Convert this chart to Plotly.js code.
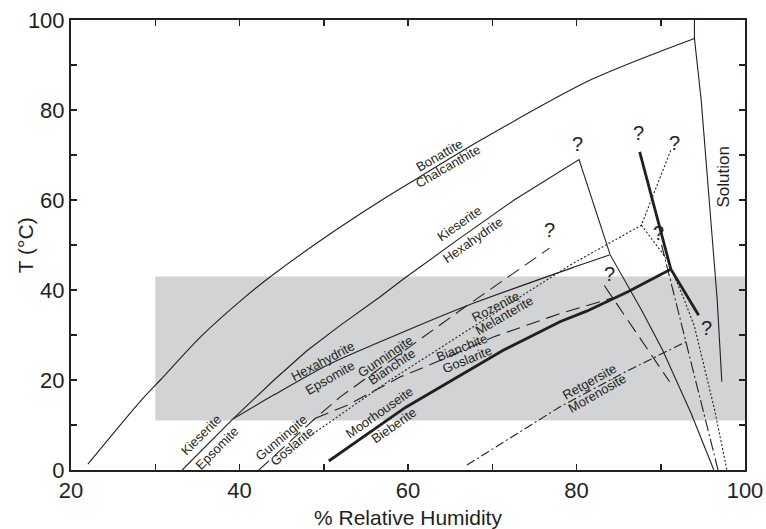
<!DOCTYPE html>
<html>
<head>
<meta charset="utf-8">
<script src="https://cdn.plot.ly/plotly-3.0.1.min.js"></script>
<style>html,body{margin:0;padding:0;background:#fff;}#chart{width:766px;height:529px;}</style>
</head>
<body>
<div id="chart"></div>
<script>
// ---- Data ----
// Grey temperature band
const bandX = [30, 100];
const bandY = [11, 43];

// Bonattite / Chalcanthite boundary
const bonX = [22.0, 28.2, 30.6, 35.5, 40.5, 43.7, 50.0, 56.9, 60.3, 69.0, 81.7, 94.0];
const bonY = [1.3, 15.2, 20.0, 29.8, 38.2, 43.0, 51.5, 60.0, 63.9, 73.7, 86.7, 95.9];
// Solution boundary
const solX = [94.0, 94.0, 94.8, 96.7, 97.25];
const solY = [100, 95.9, 82.2, 37.8, 19.6];
// Kieserite / Epsomite
const kieEpsX = [33.2, 39.2];
const kieEpsY = [0, 11.3];
// Kieserite / Hexahydrite, then descending deliquescence line
const kieHexX = [39.2, 44.1, 48.0, 52.0, 56.7, 59.5, 66.0, 72.6, 80.3, 84.0, 87.7, 90.2, 93.6, 96.3];
const kieHexY = [11.3, 20.0, 26.5, 32.2, 38.5, 42.5, 51.3, 60.0, 69.0, 47.8, 35.6, 26.7, 12.6, 0];
// Hexahydrite / Epsomite and Rozenite / Melanterite (solid)
const hexEpsX = [39.2, 44.1, 50.4, 56.7, 66.7, 80.5, 83.9];
const hexEpsY = [11.3, 16.7, 23.3, 28.5, 36.3, 45.6, 47.8];
// Gunningite / Goslarite -> Gunningite / Bianchite (dashed)
const gunX = [42.3, 49.0, 52.0, 66.3, 76.8];
const gunY = [0, 11.5, 16.3, 35.6, 49.3];
// Bianchite / Goslarite -> Bianchite / Melanterite (dashed)
const bianX = [49.0, 52.8, 59.1, 62.5, 70.2, 78.1, 82.1, 84.4];
const bianY = [11.5, 14.4, 20.7, 23.3, 29.6, 34.8, 37.0, 38.3];
// Steep dashed deliquescence segment
const bianDelX = [83.3, 91.05];
const bianDelY = [41.0, 19.6];
// Rozenite / Melanterite (dotted) with upper branch
const rozX = [48.3, 57.9, 67.8, 79.3, 87.7, 91.2];
const rozY = [7.5, 20.0, 31.9, 45.6, 54.4, 71.1];
// Dotted descending branch
const rozDelX = [87.7, 90.8, 92.8, 94.0, 96.4, 97.85];
const rozDelY = [54.4, 46.7, 37.8, 31.9, 13.3, 0];
// Moorhouseite / Bieberite (thick)
const moorX = [50.6, 59.7, 71.3, 78.1, 81.2, 86.1, 91.2];
const moorY = [2.0, 13.9, 26.6, 33.0, 35.3, 39.6, 44.6];
// Thick branch through the triple point
const moorDelX = [87.5, 91.2, 94.5];
const moorDelY = [70.7, 44.6, 34.4];
// Retgersite / Morenosite (dash-dot)
const retX = [67.0, 78.0, 86.0, 93.0];
const retY = [1.1, 14.0, 22.0, 28.5];
// Dash-dot descending line
const retDelX = [90.1, 93.0, 96.8];
const retDelY = [50.0, 28.5, 0];

// Axis ticks
const xTickVals = [20, 30, 40, 50, 60, 70, 80, 90, 100];
const xTickText = ['20', '', '40', '', '60', '', '80', '', '100'];
const yTickVals = [0, 10, 20, 30, 40, 50, 60, 70, 80, 90, 100];
const yTickText = ['0', '', '20', '', '40', '', '60', '', '80', '', '100'];

// Phase labels
const labelText = ['Bonattite', 'Chalcanthite', 'Kieserite', 'Hexahydrite', 'Hexahydrite', 'Epsomite',
  'Gunningite', 'Bianchite', 'Rozenite', 'Melanterite', 'Bianchite', 'Goslarite', 'Kieserite', 'Epsomite',
  'Gunningite', 'Goslarite', 'Moorhouseite', 'Bieberite', 'Retgersite', 'Morenosite'];
const labelX = [63.7, 64.7, 66.1, 67.6, 49.8, 50.8, 57.3, 58.1, 70.4, 71.4, 66.4, 67.0, 35.5, 37.3, 45.0, 46.2, 56.6, 58.3, 81.6, 82.4];
const labelY = [69.8, 67.4, 54.8, 51.1, 24.2, 20.5, 25.2, 23.0, 36.3, 34.4, 27.3, 24.6, 7.8, 4.8, 7.2, 5.3, 12.8, 10.0, 19.6, 17.0];
const labelAngle = [-30, -30, -35, -35, -28, -30, -34, -34, -27, -30, -22, -22, -45, -45, -40, -40, -35, -35, -29, -30];

// Question marks
const qX = [80.1, 76.8, 87.3, 91.6, 89.7, 83.9, 95.4];
const qY = [72.4, 53.3, 74.8, 72.6, 52.6, 43.6, 31.5];

// ---- Drawing ----
const INK = '#231f20';
const FONT = 'Liberation Sans, Arial, Helvetica, sans-serif';

function ln(x, y, width, dash, shape) {
  return {type: 'scatter', mode: 'lines', x: x, y: y,
    line: {color: INK, width: width, dash: dash || 'solid', shape: shape || 'linear', smoothing: 0.8},
    hoverinfo: 'skip', showlegend: false};
}

const traces = [
  ln(bonX, bonY, 1.1, 'solid', 'spline'),
  ln(solX, solY, 1.1),
  ln(kieEpsX, kieEpsY, 1.1),
  ln(kieHexX, kieHexY, 1.1),
  ln(hexEpsX, hexEpsY, 1.1, 'solid', 'spline'),
  ln(gunX, gunY, 1.1, '14px,7px'),
  ln(bianX, bianY, 1.1, '14px,7px'),
  ln(bianDelX, bianDelY, 1.1, '14px,7px'),
  ln(rozX, rozY, 1.1, '2px,2px'),
  ln(rozDelX, rozDelY, 1.1, '2px,2px'),
  ln(moorX, moorY, 2.8),
  ln(moorDelX, moorDelY, 2.8),
  ln(retX, retY, 1.1, '9px,3px,2px,3px'),
  ln(retDelX, retDelY, 1.1, '12px,3px,2px,3px')
];

const annotations = [];
for (let i = 0; i < labelText.length; i++) {
  annotations.push({x: labelX[i], y: labelY[i], xref: 'x', yref: 'y', text: labelText[i],
    textangle: labelAngle[i], showarrow: false, xanchor: 'center', yanchor: 'middle',
    font: {family: FONT, size: 13, color: INK}});
}
for (let i = 0; i < qX.length; i++) {
  annotations.push({x: qX[i], y: qY[i], xref: 'x', yref: 'y', text: '?', showarrow: false,
    xanchor: 'center', yanchor: 'middle', font: {family: FONT, size: 20, color: INK}});
}
annotations.push({x: 97.5, y: 65.2, xref: 'x', yref: 'y', text: 'Solution', textangle: -90,
  showarrow: false, xanchor: 'center', yanchor: 'middle', font: {family: FONT, size: 17, color: INK}});
// Axis titles placed as annotations for exact placement
annotations.push({x: 0.5, y: -0.105, xref: 'paper', yref: 'paper', text: '% Relative Humidity',
  showarrow: false, xanchor: 'center', yanchor: 'middle', font: {family: FONT, size: 21, color: INK}});
annotations.push({x: -0.068, y: 0.5, xref: 'paper', yref: 'paper', text: 'T (°C)', textangle: -90,
  showarrow: false, xanchor: 'center', yanchor: 'middle', font: {family: FONT, size: 21, color: INK}});

const axisCommon = {
  ticks: 'inside', ticklen: 6, tickwidth: 1.5, tickcolor: INK,
  showline: true, linewidth: 2, linecolor: INK, mirror: 'ticks',
  showgrid: false, zeroline: false,
  tickfont: {family: FONT, size: 22, color: INK}
};

const layout = {
  width: 766, height: 529,
  margin: {l: 71, r: 21, t: 20, b: 59},
  paper_bgcolor: '#ffffff', plot_bgcolor: '#ffffff',
  font: {family: FONT, color: INK},
  showlegend: false,
  xaxis: Object.assign({}, axisCommon, {
    range: [20, 100], tickmode: 'array', tickvals: xTickVals, ticktext: xTickText
  }),
  yaxis: Object.assign({}, axisCommon, {
    range: [0, 100], tickmode: 'array', tickvals: yTickVals, ticktext: yTickText
  }),
  shapes: [{type: 'rect', xref: 'x', yref: 'y', x0: bandX[0], x1: bandX[1], y0: bandY[0], y1: bandY[1],
    fillcolor: '#d1d3d4', line: {width: 0}, layer: 'below'}],
  annotations: annotations
};

Plotly.newPlot('chart', traces, layout, {displayModeBar: false, staticPlot: true});
</script>
</body>
</html>
